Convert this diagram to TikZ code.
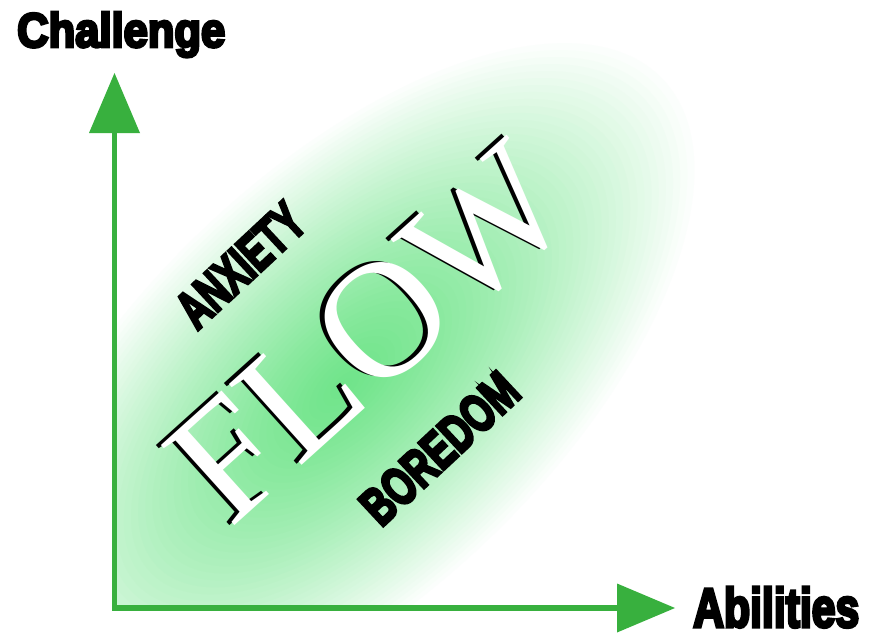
\documentclass[tikz,border=0pt]{standalone}
\usepackage{fontspec}
\usepackage{graphicx}
\usetikzlibrary{arrows.meta}
\newfontfamily\flowfont{Liberation Serif}
\newfontfamily\impactfont{Liberation Sans}[BoldFeatures={FakeBold=6}]
\definecolor{axisgreen}{RGB}{56,176,62}
\definecolor{glow}{RGB}{112,228,138}
\newcommand{\impbox}[3]{\resizebox{#1pt}{#2pt}{\impactfont\bfseries #3}}
\begin{document}
\begin{tikzpicture}[x=1pt,y=-1pt,
  axis/.style={draw=axisgreen, line width=5.5pt, line join=miter,
    {Triangle[length=60pt,width=51pt,line width=0pt]}-{Triangle[length=58pt,width=49pt,line width=0pt]}},
  lbl/.style={inner sep=0pt, anchor=base west},
  flowtxt/.style={inner sep=0pt, anchor=base west, rotate=42,
    font=\flowfont\fontsize{166}{166}\selectfont}]
\useasboundingbox[fill=white] (0,0) rectangle (878,634);
% green glow, clipped by the axes
\begin{scope}
  \clip (114.5,0) rectangle (878,608);
  \foreach \i in {0,...,49} {
    \pgfmathsetmacro\s{1-\i/50}
    \pgfmathsetmacro\p{100*(1-\s^1.3)}
    \fill[glow!\p!white, rotate around={44:(345,385)}]
      (345,385) ellipse ({450*\s} and {215*\s});
  }
\end{scope}
% axes
\coordinate (origin) at (114.5,608);
\coordinate (ytip) at (114.5,73);
\coordinate (xtip) at (675,608);
\draw[axis] (ytip) -- (origin) -- (xtip);
% labels
\node[lbl] (challenge) at (17,47) {\impbox{208}{35}{Challenge}};
\node[lbl] (abilities) at (693,627) {\impbox{166}{40}{Abilities}};
\node[lbl, rotate=43] (anxiety) at (197,331) {\impbox{153}{37}{ANXIETY}};
\node[lbl, rotate=43] (boredom) at (381,528) {\impbox{194}{37}{BOREDOM}};
\node[flowtxt, text=black] (flowshadow) at (225,529.5) {FLOW};
\node[flowtxt, text=white] (flow) at (230,530) {FLOW};
\end{tikzpicture}
\end{document}
